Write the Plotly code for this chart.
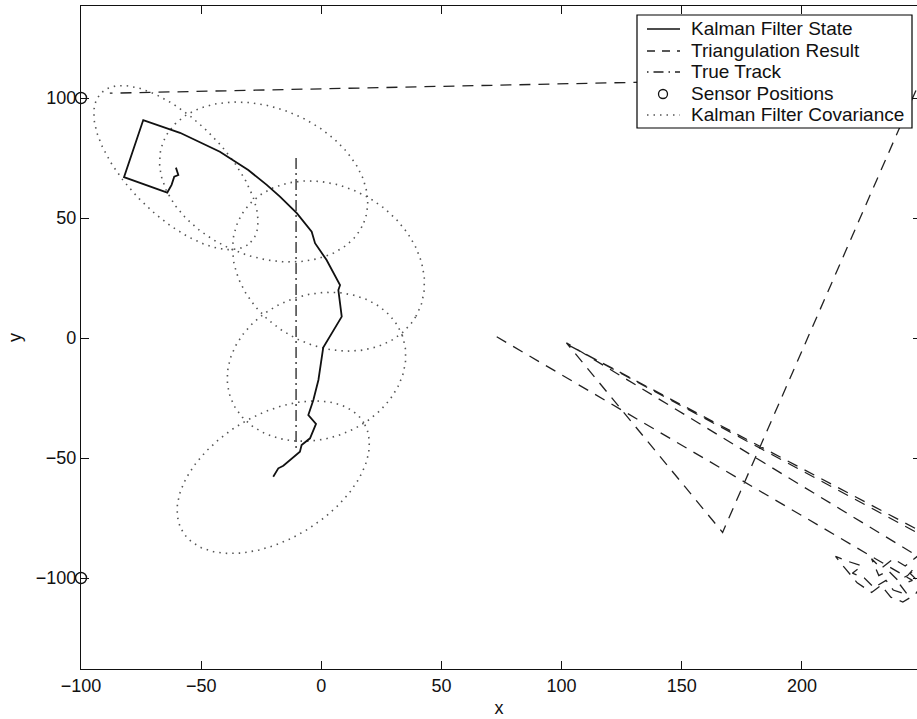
import numpy as np
import plotly.graph_objects as go

# ---------------- data ----------------
kf_x = [-60.5, -59.5, -61.2, -62.3, -64.1, -82.1, -74.1, -63.0, -58.8, -42.2, -38.0, -30.4,
        -22.7, -17.2, -10.2, -4.0, -2.6, 2.2, 7.8, 7.1, 8.5, 0.8, -1.2, -3.3, -5.4, -2.2,
        -4.7, -8.2, -8.9, -12.3, -15.8, -17.9, -20.0]
kf_y = [71.0, 67.9, 67.2, 63.8, 60.6, 67.0, 90.8, 87.0, 85.5, 77.6, 74.9, 70.0,
        63.8, 58.9, 52.0, 44.3, 39.5, 32.5, 22.0, 20.0, 8.9, -4.0, -17.5, -25.8, -32.1, -35.8,
        -41.8, -44.6, -47.4, -50.1, -53.2, -54.3, -57.8]

tri_x = [73, 246, 241, 244, 238, 235, 230, 226, 221, 225, 219, 214, 218, 223, 229, 233,
         237, 242, 247, 250, 245, 249, 256,
         102, 257, 248, 243, 238, 233, 229, 232, 236, 240, 244, 250,
         102, 167, 250, -88]
tri_y = [0.5, -101, -103, -107, -105, -101, -104, -100, -98, -95, -93, -91, -96, -102, -106, -103,
         -108, -110, -107, -103, -98, -95, -84,
         -2.5, -86, -91, -95, -92, -96, -92, -99, -97, -101, -99, -92,
         -2, -81, 109, 102]

true_x = [-10.5, -10.5]
true_y = [75.0, -47.0]

sensor_x = [-100, -100]
sensor_y = [100, -100]

ell_cx = [-60.5, -24.0, 3.0, -2.0, -20.0]
ell_cy = [71.0, 65.0, 30.0, -12.0, -58.0]
ell_a = [44.0, 45.0, 42.0, 38.0, 44.0]
ell_b = [20.0, 31.0, 33.0, 30.0, 26.0]
ell_ang = [-45.0, -22.0, -30.0, 20.0, 31.0]

x_ticks = [-100, -50, 0, 50, 100, 150, 200]
y_ticks = [-100, -50, 0, 50, 100]

legend_names = ["Kalman Filter State", "Triangulation Result", "True Track",
                "Sensor Positions", "Kalman Filter Covariance"]

# ---------------- build ellipse outlines from covariance parameters ----------------
t = np.linspace(0, 2 * np.pi, 181)
ex, ey = [], []
for cx, cy, a, b, ang in zip(ell_cx, ell_cy, ell_a, ell_b, ell_ang):
    th = np.deg2rad(ang)
    xs = cx + a * np.cos(t) * np.cos(th) - b * np.sin(t) * np.sin(th)
    ys = cy + a * np.cos(t) * np.sin(th) + b * np.sin(t) * np.cos(th)
    ex += list(xs) + [None]
    ey += list(ys) + [None]

FONT = "Liberation Sans, Arial, Helvetica, sans-serif"
W, H = 917, 719
L, R, T, B = 81, 0, 6, 50

fig = go.Figure()
fig.add_trace(go.Scatter(x=ex, y=ey, mode="lines", name=legend_names[4],
                         line=dict(color="#555555", width=1.6, dash="1.5px,5px"),
                         showlegend=False))
fig.add_trace(go.Scatter(x=tri_x, y=tri_y, mode="lines", name=legend_names[1],
                         line=dict(color="#222222", width=1.3, dash="11px,8px"),
                         showlegend=False))
fig.add_trace(go.Scatter(x=true_x, y=true_y, mode="lines", name=legend_names[2],
                         line=dict(color="#222222", width=1.3, dash="11px,4px,2px,4px"),
                         showlegend=False))
fig.add_trace(go.Scatter(x=kf_x, y=kf_y, mode="lines", name=legend_names[0],
                         line=dict(color="#111111", width=1.8),
                         showlegend=False))
fig.add_trace(go.Scatter(x=sensor_x, y=sensor_y, mode="markers", name=legend_names[3],
                         marker=dict(symbol="circle-open", size=11, color="#111111",
                                     line=dict(width=1.4)),
                         cliponaxis=False, showlegend=False))
# invisible trace for right-hand tick axis
fig.add_trace(go.Scatter(x=[0], y=[0], yaxis="y2", mode="markers",
                         marker=dict(opacity=0), showlegend=False, hoverinfo="skip"))

pw = W - L - R
ph = H - T - B

def px2paper(px, py):
    return (px - L) / pw, (H - B - py) / ph

# ---------------- custom legend (matches the original boxed legend) ----------------
shapes = []
annotations = []
bx0, by0 = px2paper(637, 128)
bx1, by1 = px2paper(912, 15)
shapes.append(dict(type="rect", xref="paper", yref="paper", x0=bx0, y0=by0, x1=bx1, y1=by1,
                   line=dict(color="black", width=1.2), fillcolor="white", layer="above"))
rows = [29, 51, 72, 94, 115]
styles = [dict(color="#111111", width=1.6, dash="solid"),
          dict(color="#222222", width=1.3, dash="8px,7px"),
          dict(color="#222222", width=1.3, dash="1.5px,5px,10px,5px"),
          None,
          dict(color="#555555", width=1.6, dash="1.5px,5px")]
for name, ry, st in zip(legend_names, rows, styles):
    if st is not None:
        x0, y0 = px2paper(647, ry)
        x1, _ = px2paper(680, ry)
        shapes.append(dict(type="line", xref="paper", yref="paper", x0=x0, y0=y0, x1=x1, y1=y0,
                           line=st, layer="above"))
    else:
        cxp, cyp = px2paper(663, ry)
        shapes.append(dict(type="circle", xref="paper", yref="paper", xsizemode="pixel",
                           ysizemode="pixel", xanchor=cxp, yanchor=cyp, x0=-4.5, x1=4.5,
                           y0=-4.5, y1=4.5, line=dict(color="#111111", width=1.3),
                           layer="above"))
    tx, ty = px2paper(689, ry)
    annotations.append(dict(xref="paper", yref="paper", x=tx, y=ty, text=name,
                            showarrow=False, xanchor="left", yanchor="middle",
                            font=dict(family=FONT, size=19, color="#111111")))

x_range = [-100, -100 + pw / 2.403]
y0_px = 338
y_range = [-(H - B - y0_px) / 2.4, (y0_px - T) / 2.4]

fig.update_layout(
    width=W, height=H,
    margin=dict(l=L, r=R, t=T, b=B, pad=0),
    paper_bgcolor="white", plot_bgcolor="white",
    font=dict(family=FONT, size=18, color="#111111"),
    showlegend=False,
    shapes=shapes, annotations=annotations,
    xaxis=dict(range=x_range, tickvals=x_ticks, ticks="inside", ticklen=8, tickwidth=1.2,
               tickcolor="#111111", showline=True, linecolor="#111111", linewidth=1.3,
               mirror="ticks", showgrid=False, zeroline=False,
               title=dict(text="x", standoff=6, font=dict(size=18)),
               tickfont=dict(size=18)),
    yaxis=dict(range=y_range, tickvals=y_ticks, ticks="inside", ticklen=8, tickwidth=1.2,
               tickcolor="#111111", showline=True, linecolor="#111111", linewidth=1.3,
               mirror=False, showgrid=False, zeroline=False,
               title=dict(text="y", standoff=9, font=dict(size=18)),
               tickfont=dict(size=18)),
    yaxis2=dict(range=y_range, overlaying="y", side="right", tickvals=y_ticks,
                ticks="inside", ticklen=4, tickwidth=1.2, tickcolor="#111111",
                showticklabels=False, showline=False, showgrid=False, zeroline=False),
)

fig.write_html("out.html")
